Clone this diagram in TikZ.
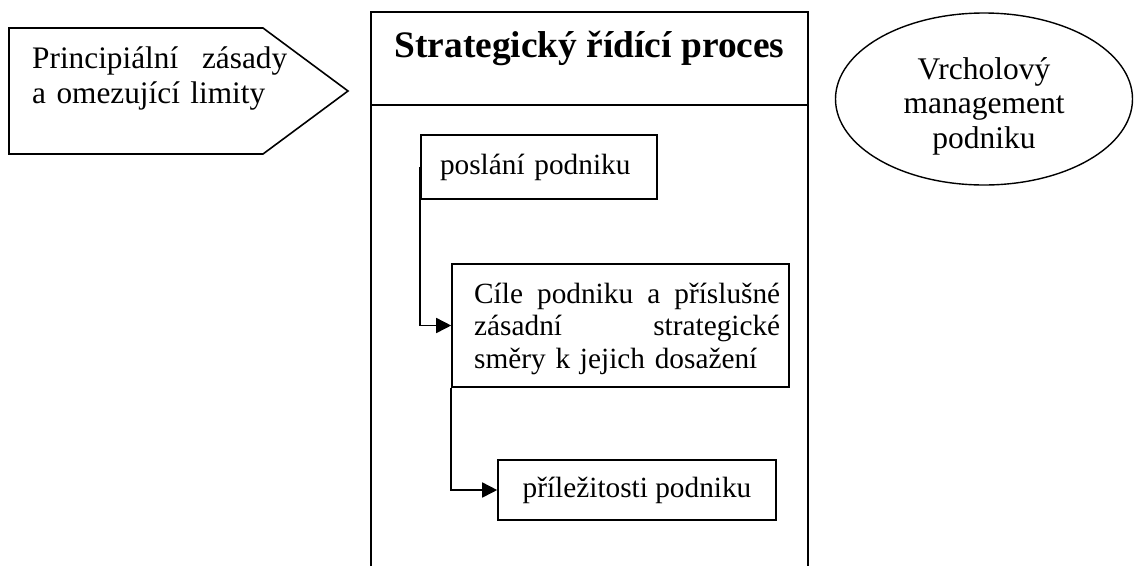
\documentclass[tikz,border=0pt]{standalone}
\usepackage{fontspec}
\setmainfont{Liberation Serif}
\usetikzlibrary{arrows.meta,shapes.geometric}
\begin{document}
\begin{tikzpicture}[x=1pt,y=-1pt,
  every node/.style={font=\fontsize{29.3}{32.5}\selectfont, inner sep=0pt},
  line/.style={line width=1.6pt},
  box/.style={draw, line width=1.6pt, rectangle},
  conn/.style={line width=1.6pt, -{Triangle[length=15pt,width=15pt]}},
]
\useasboundingbox (0,0) rectangle (1135,566);
\fill[white] (0,0) rectangle (1135,566);
% pentagon
\draw[line, line join=miter] (9,28) -- (263,28) -- (348,91) -- (263,154) -- (9,154) -- cycle;
\node[anchor=base west, text width=255pt, align=left, font=\fontsize{31.3}{35}\selectfont] (zas) at (32,68) {Principiální\hfill zásady\\a omezující limity};
% big box
\draw[line] (371,566) -- (371,12) -- (808,12) -- (808,566);
\draw[line] (371,105) -- (808,105);
\node[anchor=base, font=\bfseries\fontsize{37.4}{44}\selectfont] (title) at (589.5,57) {Strategický řídící proces};
% ellipse
\node[draw, ellipse, line width=1.4pt, minimum width=297pt, minimum height=172pt] (vm) at (984,99) {};
\node[anchor=base, align=center, font=\fontsize{31.5}{34.5}\selectfont] (vmtext) at (984,148) {Vrcholový\\management\\podniku};
% inner boxes
\node[box, minimum width=236pt, minimum height=64pt, text width=198pt, inner xsep=19pt, align=left] (posl) at (539,167) {poslání podniku};
\node[box, minimum width=337pt, minimum height=123pt] (cile) at (620.5,325.5) {};
\node[anchor=base west, text width=306pt, align=left] (ciletext) at (474,303) {Cíle\hfill podniku\hfill a\hfill příslušné\\zásadní\hfill strategické\\směry k jejich dosažení};
\node[box, minimum width=278pt, minimum height=60pt] (pril) at (637,490) {příležitosti podniku};
% connectors
\draw[conn] (posl.west) |- (cile.west);
\draw[conn] (cile.south west) |- (pril.west);
\end{tikzpicture}
\end{document}
